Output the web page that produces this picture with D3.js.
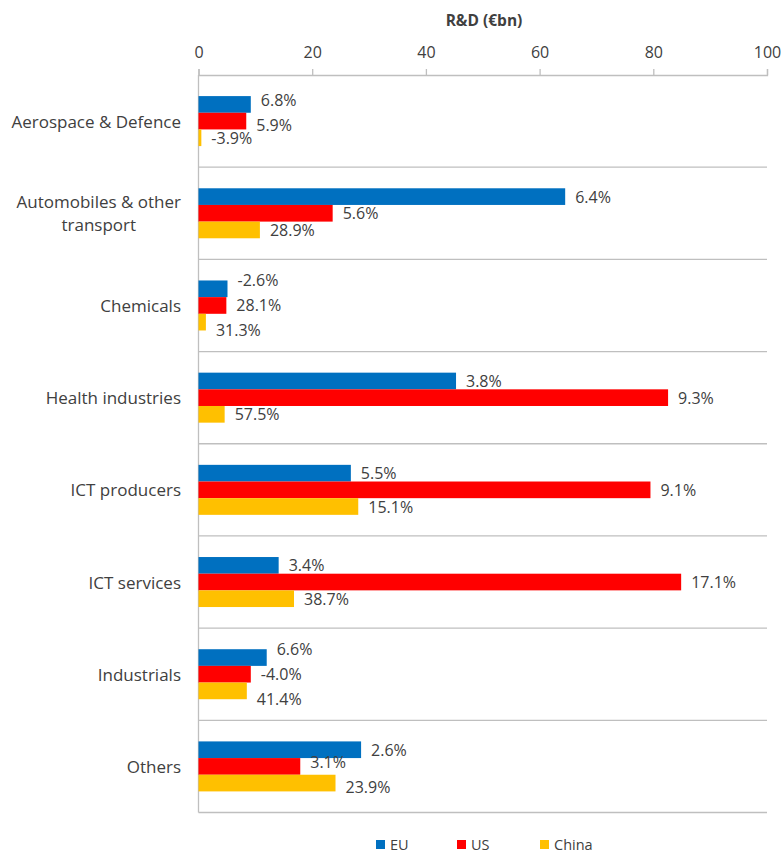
<!DOCTYPE html>
<html>
<head>
<meta charset="utf-8">
<script src="https://cdn.jsdelivr.net/npm/d3@7"></script>
<style>
  html, body { margin: 0; padding: 0; background: #fff; }
  svg { display: block; font-family: "Open Sans", Lato, sans-serif; }
</style>
</head>
<body>
<svg id="chart" width="783" height="852"></svg>
<script>
// Sectors (top to bottom) and the three regions compared
const categories = [
  "Aerospace & Defence",
  "Automobiles & other transport",
  "Chemicals",
  "Health industries",
  "ICT producers",
  "ICT services",
  "Industrials",
  "Others"
];
const seriesNames = ["EU", "US", "China"];

// R&D investment (€bn) per sector
const euValues    = [9.2, 64.5, 5.1, 45.3, 26.8, 14.1, 12.0, 28.6];
const usValues    = [8.4, 23.6, 4.9, 82.6, 79.5, 84.9, 9.2, 17.9];
const chinaValues = [0.5, 10.8, 1.3, 4.6, 28.1, 16.8, 8.5, 24.1];

// One-year growth rates shown next to each bar
const euGrowth    = ["6.8%", "6.4%", "-2.6%", "3.8%", "5.5%", "3.4%", "6.6%", "2.6%"];
const usGrowth    = ["5.9%", "5.6%", "28.1%", "9.3%", "9.1%", "17.1%", "-4.0%", "3.1%"];
const chinaGrowth = ["-3.9%", "28.9%", "31.3%", "57.5%", "15.1%", "38.7%", "41.4%", "23.9%"];

const xTicks = [0, 20, 40, 60, 80, 100];
const axisTitle = "R&D (€bn)";

const colors = { EU: "#0070C0", US: "#FF0000", China: "#FFC000" };
const textColor = "#404040";
const lineColor = "#BFBFBF";
const fontFamily = "'Open Sans', Lato, sans-serif";

const valuesBySeries = { EU: euValues, US: usValues, China: chinaValues };
const growthBySeries = { EU: euGrowth, US: usGrowth, China: chinaGrowth };

const svg = d3.select("#chart");
const plot = { left: 198.5, right: 767, top: 75, bottom: 812.5 };

const x = d3.scaleLinear().domain([0, 100]).range([plot.left, plot.right]);
const y = d3.scaleBand().domain(categories).range([plot.top, plot.bottom]).padding(0);
const groupH = 50;
const inner = d3.scaleBand().domain(seriesNames)
  .range([(y.bandwidth() - groupH) / 2, (y.bandwidth() + groupH) / 2]).padding(0);

// Category separators (including the bottom border)
svg.append("g").selectAll("line")
  .data(categories)
  .join("line")
  .attr("x1", plot.left).attr("x2", plot.right)
  .attr("y1", d => y(d) + y.bandwidth())
  .attr("y2", d => y(d) + y.bandwidth())
  .attr("stroke", lineColor).attr("stroke-width", 1.3);

// Value axis on top
const xAxis = svg.append("g")
  .attr("transform", `translate(0,${plot.top})`)
  .call(d3.axisTop(x).tickValues(xTicks).tickSize(6).tickPadding(11).tickSizeOuter(6));
xAxis.select(".domain").attr("stroke", lineColor).attr("stroke-width", 1.3);
xAxis.selectAll(".tick line").attr("stroke", lineColor).attr("stroke-width", 1.3);
xAxis.selectAll(".tick text")
  .attr("fill", textColor).attr("font-size", 16)
  .attr("font-family", fontFamily);

// Category axis line
svg.append("line")
  .attr("x1", plot.left).attr("x2", plot.left)
  .attr("y1", plot.top).attr("y2", plot.bottom)
  .attr("stroke", lineColor).attr("stroke-width", 1.3);

// Axis title
svg.append("text")
  .attr("x", 484).attr("y", 20)
  .attr("text-anchor", "middle").attr("dominant-baseline", "central")
  .attr("font-weight", "bold").attr("font-size", 15.5)
  .attr("fill", textColor)
  .text(axisTitle);

// Bars
const rows = [];
categories.forEach((c, i) => {
  seriesNames.forEach(s => {
    rows.push({ cat: c, series: s, value: valuesBySeries[s][i], label: growthBySeries[s][i] });
  });
});

svg.append("g").selectAll("rect")
  .data(rows)
  .join("rect")
  .attr("x", x(0))
  .attr("y", d => y(d.cat) + inner(d.series))
  .attr("width", d => x(d.value) - x(0))
  .attr("height", inner.bandwidth())
  .attr("fill", d => colors[d.series]);

// Growth labels: placed after the bar end, then spread vertically
// inside each sector wherever neighbouring labels would collide
const labelGap = 10;
const minSep = 25;
const labels = svg.append("g").selectAll("text")
  .data(rows)
  .join("text")
  .attr("x", d => x(d.value) + labelGap)
  .attr("dominant-baseline", "central")
  .attr("font-size", 16)
  .attr("fill", textColor)
  .text(d => d.label);

labels.each(function (d) {
  d.x0 = x(d.value) + labelGap;
  d.x1 = d.x0 + this.getComputedTextLength();
  d.ly = y(d.cat) + inner(d.series) + inner.bandwidth() / 2;
});

categories.forEach(c => {
  const group = rows.filter(r => r.cat === c);
  for (let it = 0; it < 60; it++) {
    for (let k = 0; k < group.length - 1; k++) {
      const a = group[k], b = group[k + 1];
      const overlapX = a.x0 < b.x1 + 4 && b.x0 < a.x1 + 4;
      const dy = b.ly - a.ly;
      if (overlapX && dy < minSep) {
        const push = (minSep - dy) / 2;
        a.ly -= push;
        b.ly += push;
      }
    }
  }
});
labels.attr("y", d => d.ly);

// Category labels, wrapped where needed and centred as a block
const catLabelRight = 181;
const wrapped = {
  "Automobiles & other transport": ["Automobiles & other", "transport"]
};
categories.forEach(c => {
  const lines = wrapped[c] || [c];
  const cy = y(c) + y.bandwidth() / 2;
  const lh = 23;
  const g = svg.append("g");
  const texts = lines.map((t, k) => g.append("text")
    .attr("y", cy + (k - (lines.length - 1) / 2) * lh)
    .attr("dominant-baseline", "central")
    .attr("text-anchor", "middle")
    .attr("font-size", 17)
    .attr("fill", textColor)
    .text(t));
  const w = d3.max(texts, t => t.node().getComputedTextLength());
  texts.forEach(t => t.attr("x", catLabelRight - w / 2));
});

// Legend
const legendItems = [
  { name: "EU", x: 376 },
  { name: "US", x: 457 },
  { name: "China", x: 540 }
];
const legend = svg.append("g");
legendItems.forEach(it => {
  legend.append("rect")
    .attr("x", it.x).attr("y", 840).attr("width", 9).attr("height", 9)
    .attr("fill", colors[it.name]);
  legend.append("text")
    .attr("x", it.x + 14).attr("y", 844)
    .attr("dominant-baseline", "central")
    .attr("font-size", 14.5).attr("fill", textColor)
    .text(it.name);
});
</script>
</body>
</html>
